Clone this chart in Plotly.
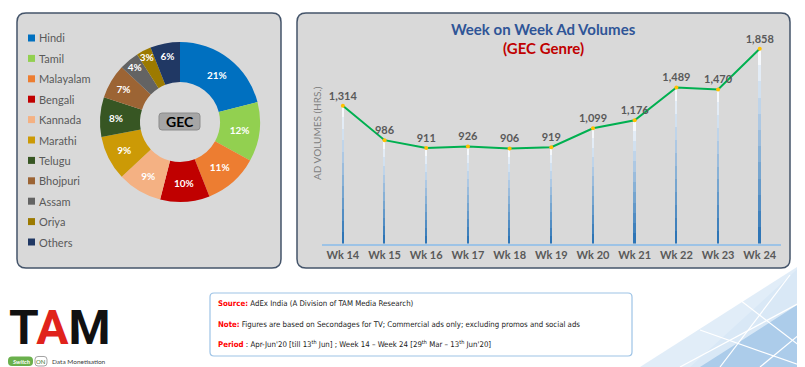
import plotly.graph_objects as go

# Page body has an 8px default margin: draw in reference pixel coordinates, shifted.
OX, OY = 8, 8
W, H = 805 - OX, 367 - OY

# ---------------- data ----------------
languages = ["Hindi", "Tamil", "Malayalam", "Bengali", "Kannada", "Marathi",
             "Telugu", "Bhojpuri", "Assam", "Oriya", "Others"]
shares = [21, 12, 11, 10, 9, 9, 8, 7, 4, 3, 6]
slice_colors = ["#0070C0", "#92D050", "#ED7D31", "#C00000", "#F4B183", "#CC9A06",
                "#375623", "#9C6434", "#636363", "#9C7A00", "#203864"]

weeks = ["Wk 14", "Wk 15", "Wk 16", "Wk 17", "Wk 18", "Wk 19",
         "Wk 20", "Wk 21", "Wk 22", "Wk 23", "Wk 24"]
volumes = [1314, 986, 911, 926, 906, 919, 1099, 1176, 1489, 1470, 1858]


def px(x):
    return (x - OX) / W


def py(y):
    return 1 - (y - OY) / H


def rrect(x0, y0, x1, y1, r):
    def p(x, y):
        return f"{px(x):.5f},{py(y):.5f}"
    return (f"M{p(x0 + r, y0)} L{p(x1 - r, y0)} Q{p(x1, y0)} {p(x1, y0 + r)} "
            f"L{p(x1, y1 - r)} Q{p(x1, y1)} {p(x1 - r, y1)} L{p(x0 + r, y1)} "
            f"Q{p(x0, y1)} {p(x0, y1 - r)} L{p(x0, y0 + r)} Q{p(x0, y0)} {p(x0 + r, y0)} Z")


FONT = "Lato"
GRAY = "#595959"

fig = go.Figure()

# ---------------- donut ----------------
fig.add_trace(go.Pie(
    labels=languages, values=shares, sort=False, direction="clockwise",
    hole=0.5, marker=dict(colors=slice_colors, line=dict(width=0)),
    domain=dict(x=[px(100), px(260)], y=[py(202), py(42)]),
    texttemplate="%{value}%", textposition="inside",
    insidetextorientation="horizontal",
    textfont=dict(family=FONT, size=10, color="white", weight="bold"),
    showlegend=False, hoverinfo="label+value",
))

# ---------------- drop lines (gradient) ----------------
N = 12
c0 = (46, 117, 182)
c1 = (245, 248, 252)
for i in range(N):
    t = i / (N - 1)
    col = "rgb(%d,%d,%d)" % tuple(round(c0[k] + (c1[k] - c0[k]) * t) for k in range(3))
    fig.add_trace(go.Bar(
        x=weeks, y=[v / N for v in volumes], width=0.04,
        marker=dict(color=col, line=dict(width=0)),
        showlegend=False, hoverinfo="skip",
    ))

labels = [f"{v:,}" for v in volumes]
fig.add_trace(go.Scatter(
    x=weeks, y=volumes, mode="lines+markers+text",
    line=dict(color="#00B050", width=2),
    marker=dict(color="#FFC000", size=4),
    text=labels, textposition="top center",
    textfont=dict(family=FONT, size=11, color=GRAY, weight="bold"),
    showlegend=False,
))

shapes = []
# panels
shapes.append(dict(type="path", path=rrect(17, 13, 281, 268, 9), xref="paper", yref="paper",
                   fillcolor="#D9D9D9", line=dict(color="#44546A", width=1.5), layer="below"))
shapes.append(dict(type="path", path=rrect(297, 13, 790, 268, 9), xref="paper", yref="paper",
                   fillcolor="#D9D9D9", line=dict(color="#44546A", width=1.5), layer="below"))
# background decoration bottom-right
shapes.append(dict(type="path",
                   path=f"M{px(690)},{py(367)} L{px(805)},{py(262)} L{px(805)},{py(367)} Z",
                   xref="paper", yref="paper", fillcolor="#9DC3E6", line=dict(width=0),
                   layer="below", opacity=0.85))
shapes.append(dict(type="path",
                   path=f"M{px(640)},{py(367)} L{px(805)},{py(262)} L{px(805)},{py(300)} L{px(700)},{py(367)} Z",
                   xref="paper", yref="paper", fillcolor="#DEEBF7", line=dict(width=0),
                   layer="below", opacity=0.9))
for (xa, ya, xb, yb) in [(680, 367, 805, 300), (720, 367, 790, 275), (760, 367, 805, 330),
                         (700, 330, 805, 367), (740, 300, 805, 350)]:
    shapes.append(dict(type="line", x0=px(xa), y0=py(ya), x1=px(xb), y1=py(yb),
                       xref="paper", yref="paper", line=dict(color="white", width=1.2),
                       layer="below"))
# source box
shapes.append(dict(type="path", path=rrect(210, 293, 632, 356, 4), xref="paper", yref="paper",
                   fillcolor="white", line=dict(color="#9DC3E6", width=1.2), layer="below"))
# GEC box
shapes.append(dict(type="path", path=rrect(159, 113, 200, 130, 3), xref="paper", yref="paper",
                   fillcolor="#A6A6A6", line=dict(color="#8C8C8C", width=1), layer="above"))
# legend squares
leg_top = 38
leg_step = 20.4
for i, c in enumerate(slice_colors):
    yc = leg_top + i * leg_step
    shapes.append(dict(type="rect", x0=px(28), x1=px(35), y0=py(yc - 3.5), y1=py(yc + 3.5),
                       xref="paper", yref="paper", fillcolor=c, line=dict(width=0)))
# logo "Switch ON" boxes
shapes.append(dict(type="path", path=rrect(8, 356.5, 33, 366, 4), xref="paper", yref="paper",
                   fillcolor="#6AB04C", line=dict(width=0)))
shapes.append(dict(type="path", path=rrect(35, 356.5, 47, 366, 3), xref="paper", yref="paper",
                   fillcolor="white", line=dict(color="#8C8C8C", width=0.8)))


def A(x, y, text, size, color, xanchor="center", yanchor="middle", family=FONT, **kw):
    return dict(x=px(x), y=py(y), xref="paper", yref="paper", text=text, showarrow=False,
                xanchor=xanchor, yanchor=yanchor, font=dict(family=family, size=size, color=color),
                **kw)


ann = []
for i, lang in enumerate(languages):
    yc = leg_top + i * leg_step
    ann.append(A(37, yc, lang, 11, GRAY, xanchor="left"))
ann.append(A(179.5, 121.5, "<b>GEC</b>", 14, "black"))
ann.append(A(543, 29, "<b>Week on Week Ad Volumes</b>", 15, "#2F5597"))
ann.append(A(543, 48, "<b>(GEC Genre)</b>", 15, "#C00000"))
ann.append(A(317, 133, "AD VOLUMES (HRS.)", 10, "#7F7F7F", textangle=-90))

SF = "DejaVu Sans Condensed, Lato"
src_lines = [
    ("Source:", " AdEx India (A Division of TAM Media Research)", 303),
    ("Note:", " Figures are based on Secondages for TV; Commercial ads only; excluding promos and social ads", 324),
    ("Period", " : Apr-Jun'20 [till 13<sup>th</sup> Jun] ; Week 14 \u2013 Week 24 [29<sup>th</sup> Mar \u2013 13<sup>th</sup> Jun'20]", 344),
]
for head, body, yy in src_lines:
    ann.append(A(216, yy, f"<b><span style='color:#FF0000'>{head}</span></b>{body}",
                 7.8, "#1a1a1a", xanchor="left", family=SF))

# logo
ann.append(A(60, 357, "<b>T<span style='color:#E0231C'>A</span>M</b>", 48, "#111111",
             yanchor="bottom", family="Roboto", borderpad=0))
ann.append(A(20.5, 361.5, "<i><b>Switch</b></i>", 6, "white", borderpad=0))
ann.append(A(41, 361.5, "ON", 6, "#4a7a2a", borderpad=0))
ann.append(A(51, 361.5, "Data Monetisation", 6.5, "#404040", xanchor="left", borderpad=0))

fig.update_layout(
    width=W, height=H, margin=dict(l=0, r=0, t=0, b=0),
    paper_bgcolor="white", plot_bgcolor="rgba(0,0,0,0)",
    barmode="stack", bargap=0, showlegend=False,
    shapes=shapes, annotations=ann,
    uniformtext=dict(minsize=10, mode="show"),
    xaxis=dict(type="category", domain=[px(322), px(780.6)], range=[-0.5, 10.5],
               showline=True, linecolor="#9DC3E6", linewidth=2, showgrid=False,
               zeroline=False, ticks="", fixedrange=True,
               tickfont=dict(family=FONT, size=11, color=GRAY, weight="bold")),
    yaxis=dict(range=[0, 2000], domain=[py(243.5), py(33.9)], visible=False,
               fixedrange=True),
)

fig.write_html("out.html")
